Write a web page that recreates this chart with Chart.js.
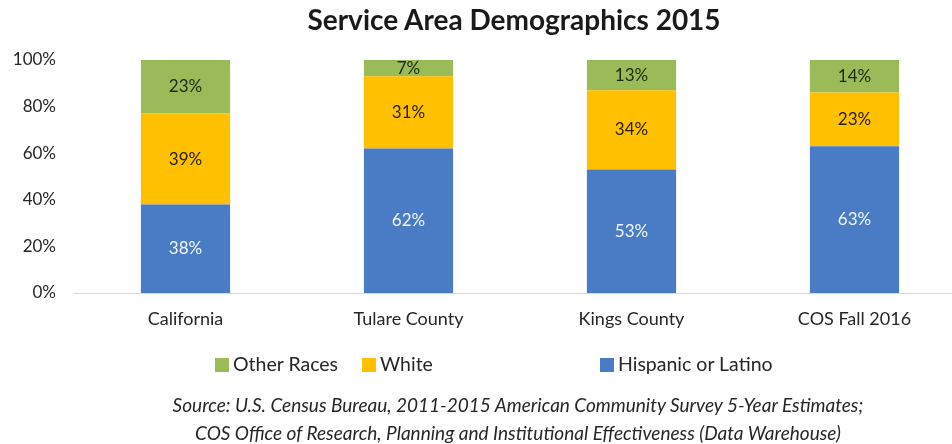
<!DOCTYPE html>
<html>
<head>
<meta charset="utf-8">
<script src="https://cdn.jsdelivr.net/npm/chart.js@4"></script>
<style>
  html, body { margin: 0; padding: 0; background: #fff; overflow: hidden; }
  body { width: 952px; height: 444px; position: relative; font-family: Lato, "Open Sans", sans-serif; color: #262626; }
  #wrap { position: absolute; left: 0; top: 0; width: 980px; height: 444px; }
  #title { position: absolute; left: 514px; top: 2px; transform: translateX(-50%); white-space: nowrap;
           font-size: 28px; font-weight: bold; color: #1a1a1a; }
  .leg { position: absolute; top: 352px; font-size: 19.5px; white-space: nowrap; line-height: 23px; }
  .leg i { display: inline-block; width: 14px; height: 14px; vertical-align: -1px; margin-right: 4px; }
  .src { position: absolute; left: 518px; transform: translateX(-50%); white-space: nowrap; font-style: italic;
         font-size: 19px; line-height: 23px; }
</style>
</head>
<body>
<div id="wrap"><canvas id="myChart" width="980" height="444"></canvas></div>
<div id="title">Service Area Demographics 2015</div>
<div id="legend"></div>
<div class="src" style="top:393px">Source: U.S. Census Bureau, 2011-2015 American Community Survey 5-Year Estimates;</div>
<div class="src" style="top:421px">COS Office of Research, Planning and Institutional Effectiveness (Data Warehouse)</div>

<script>
const d = document;
const ctx = d.getElementById('myChart').getContext('2d');

const categorias = ['California', 'Tulare County', 'Kings County', 'COS Fall 2016'];
const hispanos = [38, 62, 53, 63];
const blancos = [39, 31, 34, 23];
const otras = [23, 7, 13, 14];
const yTicks = [0, 20, 40, 60, 80, 100];

const azul = '#4A7CC6';
const oro = '#FFC000';
const verde = '#9BBB59';

// etiquetas de porcentaje en el centro de cada segmento
const etiquetas = {
    id: 'etiquetas',
    afterDatasetsDraw(chart) {
        const c = chart.ctx;
        c.save();
        c.font = '17px Lato, sans-serif';
        c.textAlign = 'center';
        c.textBaseline = 'middle';
        chart.data.datasets.forEach((ds, i) => {
            chart.getDatasetMeta(i).data.forEach((bar, j) => {
                c.fillStyle = ds.labelColor;
                c.fillText(ds.data[j] + '%', bar.x, (bar.y + bar.base) / 2);
            });
        });
        c.restore();
    }
};

const myChart = new Chart(ctx, {
    type: 'bar',
    data: {
        labels: categorias,
        datasets: [
            { label: 'Hispanic or Latino', data: hispanos, backgroundColor: azul, labelColor: '#f2f6fc' },
            { label: 'White', data: blancos, backgroundColor: oro, labelColor: '#2a2000' },
            { label: 'Other Races', data: otras, backgroundColor: verde, labelColor: '#1c2a10' }
        ]
    },
    options: {
        responsive: false,
        animation: false,
        layout: { padding: { top: 60, right: 14, left: 0, bottom: 0 } },
        datasets: { bar: { barPercentage: 0.4, categoryPercentage: 1 } },
        plugins: { legend: { display: false }, title: { display: false }, tooltip: { enabled: false } },
        scales: {
            x: {
                stacked: true,
                grid: { display: false, drawTicks: false },
                border: { display: true, color: '#d9d9d9' },
                ticks: { padding: 15, color: '#262626', font: { family: 'Lato', size: 18 } },
                afterFit: s => { s.height = 151 }
            },
            y: {
                stacked: true,
                min: 0,
                max: 100,
                grid: { display: false, drawTicks: false },
                border: { display: false },
                afterBuildTicks: s => { s.ticks = yTicks.map(v => ({ value: v })) },
                ticks: { padding: 18, color: '#262626', font: { family: 'Lato', size: 17 }, callback: v => v + '%' },
                afterFit: s => { s.width = 74 }
            }
        }
    },
    plugins: [etiquetas]
});

// leyenda en orden inverso, como en el original
const posLeyenda = [215, 362, 600];
const $legend = d.getElementById('legend');
myChart.data.datasets.slice().reverse().forEach((ds, i) => {
    const $item = d.createElement('div');
    $item.className = 'leg';
    $item.style.left = posLeyenda[i] + 'px';
    const $box = d.createElement('i');
    $box.style.background = ds.backgroundColor;
    $item.appendChild($box);
    $item.appendChild(d.createTextNode(ds.label));
    $legend.appendChild($item);
});
</script>
</body>
</html>
